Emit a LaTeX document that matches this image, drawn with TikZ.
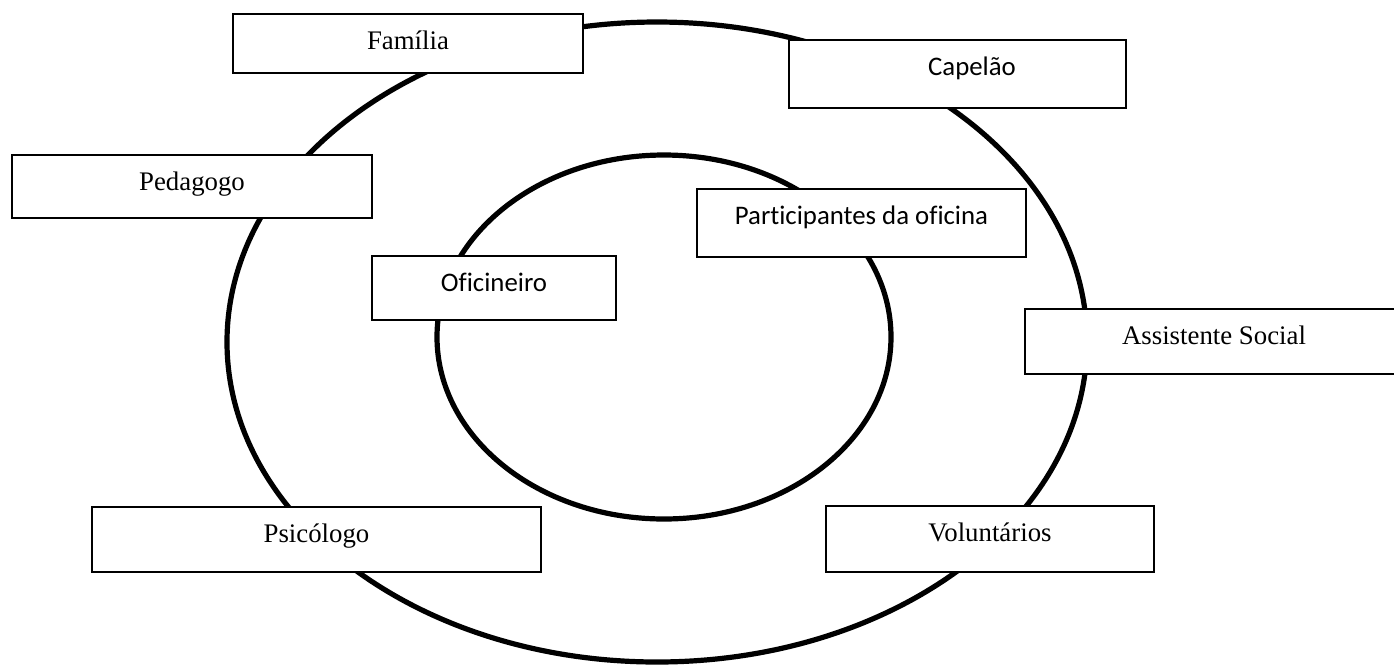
\documentclass[tikz,border=0pt]{standalone}
\usepackage{fontspec}
\setmainfont{Liberation Serif}
\newfontfamily\calibri[Ligatures=NoCommon]{Carlito}

\begin{document}
\begin{tikzpicture}[x=0.5pt,y=-0.5pt,
    caixa/.style 2 args={draw,fill=white,line width=0.6pt,inner ysep=0pt,outer sep=0pt,
      minimum width=#1*0.5pt,text height=17.75pt,text depth=#2*0.5pt-17.75pt,
      font=\fontsize{13.4}{16}\selectfont},
    sans/.style={font=\calibri\fontsize{13.4}{16}\selectfont}]
  \useasboundingbox (0,0) rectangle (1394,666);

  % os dois circulos
  \draw[line width=2.6pt] (657,342) ellipse [x radius=215pt, y radius=160pt];
  \draw[line width=2.6pt] (664,337) ellipse [x radius=113.5pt, y radius=91pt];

  \node[caixa={350}{59}] (familia) at (408,43.5) {Família};
  \node[caixa={337}{68},sans] (capelao) at (957.5,74) {\hspace*{14.5pt}Capelão};
  \node[caixa={360}{63}] (pedagogo) at (192,186.5) {Pedagogo};
  \node[caixa={329}{68},sans] (participantes) at (861.5,223) {Participantes da oficina};
  \node[caixa={244}{64},sans] (oficineiro) at (494,288) {Oficineiro};
  \node[caixa={378}{65}] (assistente) at (1214,341.5) {Assistente Social};
  \node[caixa={449}{65}] (psicologo) at (316.5,539.5) {Psicólogo};
  \node[caixa={328}{66}] (voluntarios) at (990,539) {Voluntários};
\end{tikzpicture}
\end{document}
